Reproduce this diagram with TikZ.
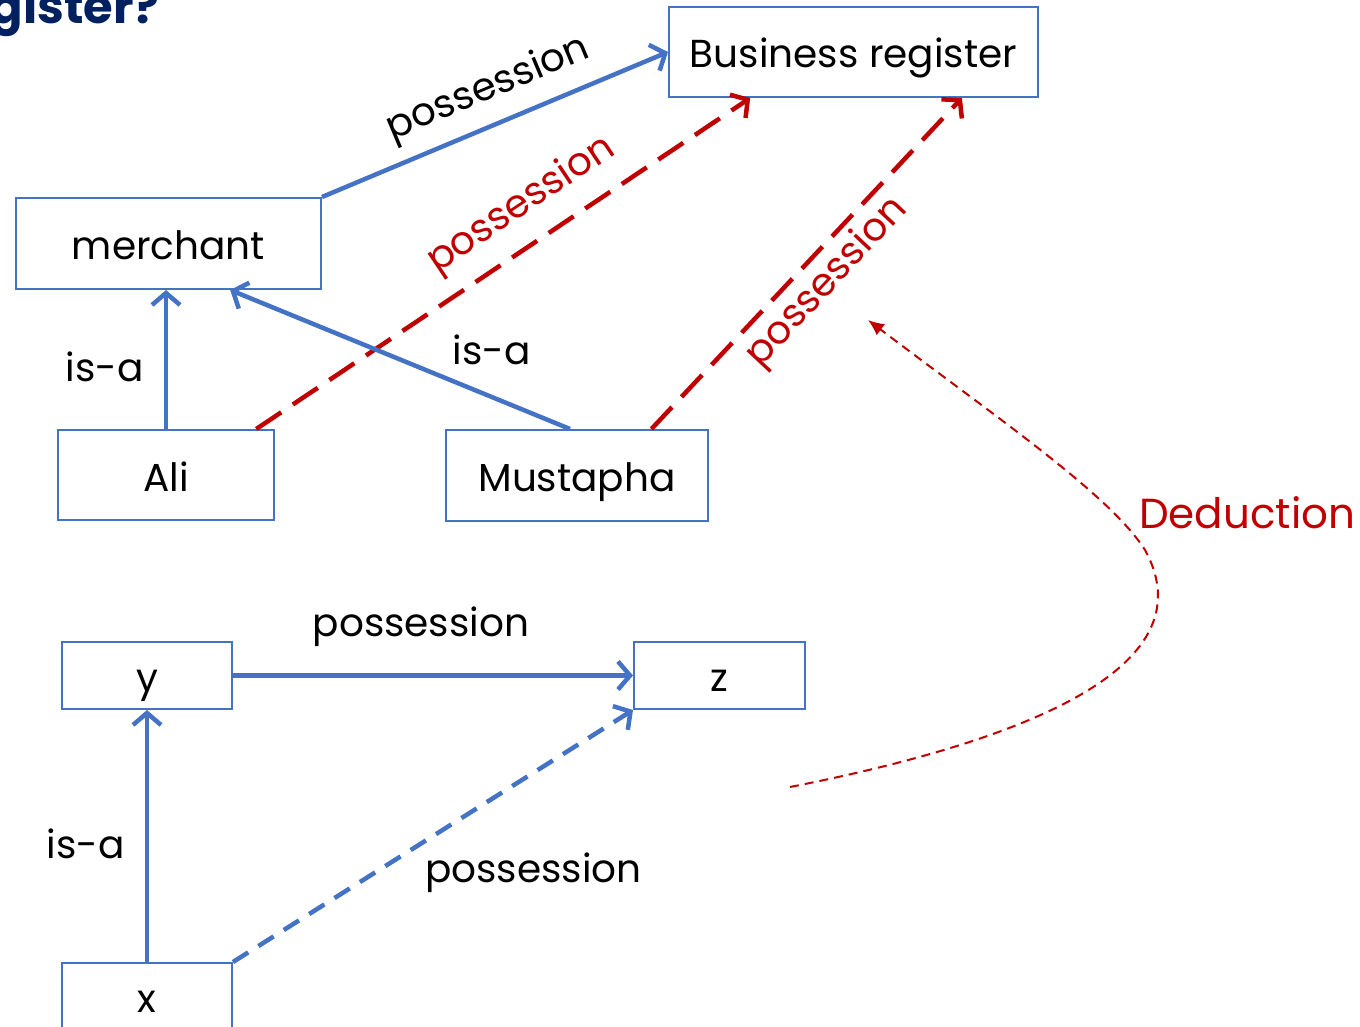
\documentclass[tikz,border=0pt]{standalone}
\usepackage{fontspec}
\setmainfont{Poppins}
\usetikzlibrary{arrows.meta}
\definecolor{relblue}{HTML}{4472C4}
\definecolor{dedred}{HTML}{C00000}
\definecolor{titlenavy}{HTML}{002060}

\begin{document}
\begin{tikzpicture}[x=1pt, y=-1pt,
  every node/.style={font=\fontsize{39}{46}\selectfont},
  box/.style={draw=relblue, line width=2pt, inner sep=0pt, text height=35pt, text depth=3pt},
  isa/.style={relblue, line width=4.5pt, -{Straight Barb[length=12pt, width=28pt]}},
  owns/.style={dedred, line width=4.5pt, dash pattern=on 30pt off 14pt, -{Straight Barb[length=12pt, width=28pt]}},
  lbl/.style={inner sep=0pt, text=black}]
\useasboundingbox (0,0) rectangle (1360,1027);

\node[anchor=base east, inner sep=0pt, text=titlenavy, font=\fontsize{48}{52}\selectfont\bfseries] (title) at (160, 24) {gister?};

\node[box, minimum width=369pt, minimum height=90pt] (reg) at (853.5, 52) {Business register};
\node[box, minimum width=305pt, minimum height=91pt] (merchant) at (168.5, 243.5) {merchant};
\node[box, minimum width=216pt, minimum height=90pt] (ali) at (166, 475) {Ali};
\node[box, minimum width=262pt, minimum height=91pt] (mustapha) at (577, 475.5) {Mustapha};
\node[box, minimum width=170pt, minimum height=67pt] (y) at (147, 675.5) {y};
\node[box, minimum width=171pt, minimum height=67pt] (z) at (719.5, 675.5) {z};
\node[box, minimum width=170pt, minimum height=67pt] (x) at (147, 996.5) {x};

\draw[isa] (merchant.north east) -- node[lbl, sloped, pos=0.52, above=13pt] (l1) {possession} (reg.west);
\draw[owns] (ali.27) -- node[lbl, sloped, pos=0.58, above=16pt, text=dedred] (l2) {possession} (reg.204);
\draw[owns] (mustapha.32) -- node[lbl, sloped, pos=0.5, below=6pt, text=dedred] (l3) {possession} (reg.337);
\draw[isa] (ali.north) -- node[lbl, pos=0.45, left=20pt] (l4) {is-a} (ali.north |- merchant.south);
\draw[isa] ([xshift=-7pt]mustapha.north) -- node[lbl, pos=0.23, above=30pt] (l5) {is-a} (merchant.323);
\draw[isa] (y.east) -- node[lbl, pos=0.47, above=27pt] (l6) {possession} (z.west);
\draw[isa] (x.north) -- node[lbl, pos=0.47, left=20pt] (l7) {is-a} (y.south);
\draw[isa, dash pattern=on 18pt off 12pt] (x.north east) -- node[lbl, pos=0.5, anchor=north west, xshift=-10pt, yshift=-15pt] (l8) {possession} (z.south west);

\coordinate (dstart) at (790, 787);
\coordinate (dend) at (868, 320);
\node[lbl, text=dedred, anchor=base west, font=\fontsize{42}{48}\selectfont] (ded) at (1139, 528) {Deduction};
\draw[dedred, line width=2pt, dash pattern=on 9pt off 6pt, -{Latex[length=16pt, width=14pt]}]
  (dstart) .. controls (1080, 730) and (1200, 650) .. (1145, 550) .. controls (1110, 495) and (1000, 420) .. (dend);
\end{tikzpicture}
\end{document}
